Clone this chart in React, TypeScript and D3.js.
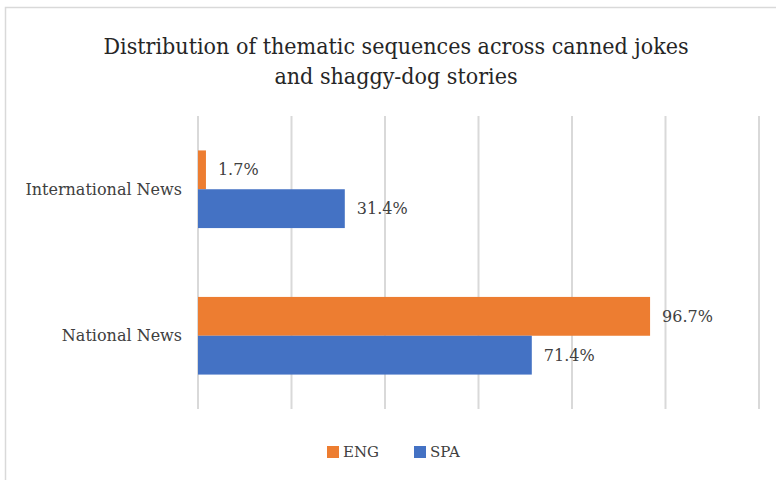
import { useEffect, useRef } from "react"
import * as d3 from "d3"

const categories = ["International News", "National News"]
const seriesNames = ["ENG", "SPA"]
const engValues = [1.7, 96.7]
const spaValues = [31.4, 71.4]
const xTicks = [0, 20, 40, 60, 80, 100, 120]
const titleLines = [
    "Distribution of thematic sequences across canned jokes",
    "and shaggy-dog stories",
]

const colors: Record<string, string> = { ENG: "#ed7d31", SPA: "#4472c4" }
const FONT = "DejaVu Serif"
const TITLE_FONT = "DejaVu Serif Condensed"

export default function App() {
    const ref = useRef<SVGSVGElement | null>(null)

    useEffect(() => {
        const el = ref.current
        if (!el) return
        const width = 776
        const height = 480
        const margin = { top: 116, right: 17, bottom: 71, left: 198 }
        const innerW = width - margin.left - margin.right
        const innerH = height - margin.top - margin.bottom

        const svg = d3.select(el)
        svg.selectAll("*").remove()

        svg.append("rect")
            .attr("width", width)
            .attr("height", height)
            .attr("fill", "#fff")

        // chart frame (cut by the window at right and bottom)
        svg.append("rect")
            .attr("x", 5.5)
            .attr("y", 7.5)
            .attr("width", width + 20)
            .attr("height", height + 20)
            .attr("fill", "none")
            .attr("stroke", "#d9d9d9")
            .attr("stroke-width", 1.5)

        svg.append("text")
            .attr("x", 396)
            .attr("y", 54)
            .attr("text-anchor", "middle")
            .attr("font-family", TITLE_FONT)
            .attr("font-size", 23)
            .attr("fill", "#262626")
            .selectAll("tspan")
            .data(titleLines)
            .join("tspan")
            .attr("x", 396)
            .attr("dy", (_d, i) => (i === 0 ? 0 : 30))
            .text(d => d)

        const g = svg.append("g")
            .attr("transform", `translate(${margin.left},${margin.top})`)

        const x = d3.scaleLinear().domain([0, 120]).range([0, innerW])
        const y = d3.scaleBand<string>()
            .domain(categories)
            .range([0, innerH])
            .paddingInner(0.47)
            .paddingOuter(0.235)
        const ySub = d3.scaleBand<string>()
            .domain(seriesNames)
            .range([0, y.bandwidth()])

        g.append("g")
            .selectAll("line")
            .data(xTicks)
            .join("line")
            .attr("x1", d => x(d))
            .attr("x2", d => x(d))
            .attr("y1", 0)
            .attr("y2", innerH)
            .attr("stroke", "#d9d9d9")
            .attr("stroke-width", 2)

        const rows = categories.map((c, i) => ({
            cat: c,
            vals: [
                { s: "ENG", v: engValues[i] },
                { s: "SPA", v: spaValues[i] },
            ],
        }))

        const groups = g.append("g")
            .selectAll("g")
            .data(rows)
            .join("g")
            .attr("transform", d => `translate(0,${y(d.cat)})`)

        groups.selectAll("rect")
            .data(d => d.vals)
            .join("rect")
            .attr("x", x(0))
            .attr("y", d => ySub(d.s)!)
            .attr("width", d => x(d.v) - x(0))
            .attr("height", ySub.bandwidth())
            .attr("fill", d => colors[d.s])

        groups.selectAll("text")
            .data(d => d.vals)
            .join("text")
            .attr("x", d => x(d.v) + 12)
            .attr("y", d => ySub(d.s)! + ySub.bandwidth() / 2)
            .attr("dy", "0.35em")
            .attr("font-family", FONT)
            .attr("font-size", 16)
            .attr("fill", "#404040")
            .text(d => `${d.v.toFixed(1)}%`)

        g.append("g")
            .selectAll("text")
            .data(categories)
            .join("text")
            .attr("x", -16)
            .attr("y", d => y(d)! + y.bandwidth() / 2)
            .attr("dy", "0.35em")
            .attr("text-anchor", "end")
            .attr("font-family", FONT)
            .attr("font-size", 16)
            .attr("fill", "#404040")
            .text(d => d)

        const legendX = [327, 414]
        const legend = svg.append("g")
            .selectAll("g")
            .data(seriesNames)
            .join("g")
            .attr("transform", (_d, i) => `translate(${legendX[i]},446)`)
        legend.append("rect")
            .attr("width", 12)
            .attr("height", 12)
            .attr("fill", d => colors[d])
        legend.append("text")
            .attr("x", 16)
            .attr("y", 6)
            .attr("dy", "0.35em")
            .attr("font-family", FONT)
            .attr("font-size", 15)
            .attr("fill", "#404040")
            .text(d => d)
    }, [])

    return (
        <div style={{ position: "fixed", left: 0, top: 0 }}>
            <svg ref={ref} width={776} height={480} style={{ display: "block" }} />
        </div>
    )
}
